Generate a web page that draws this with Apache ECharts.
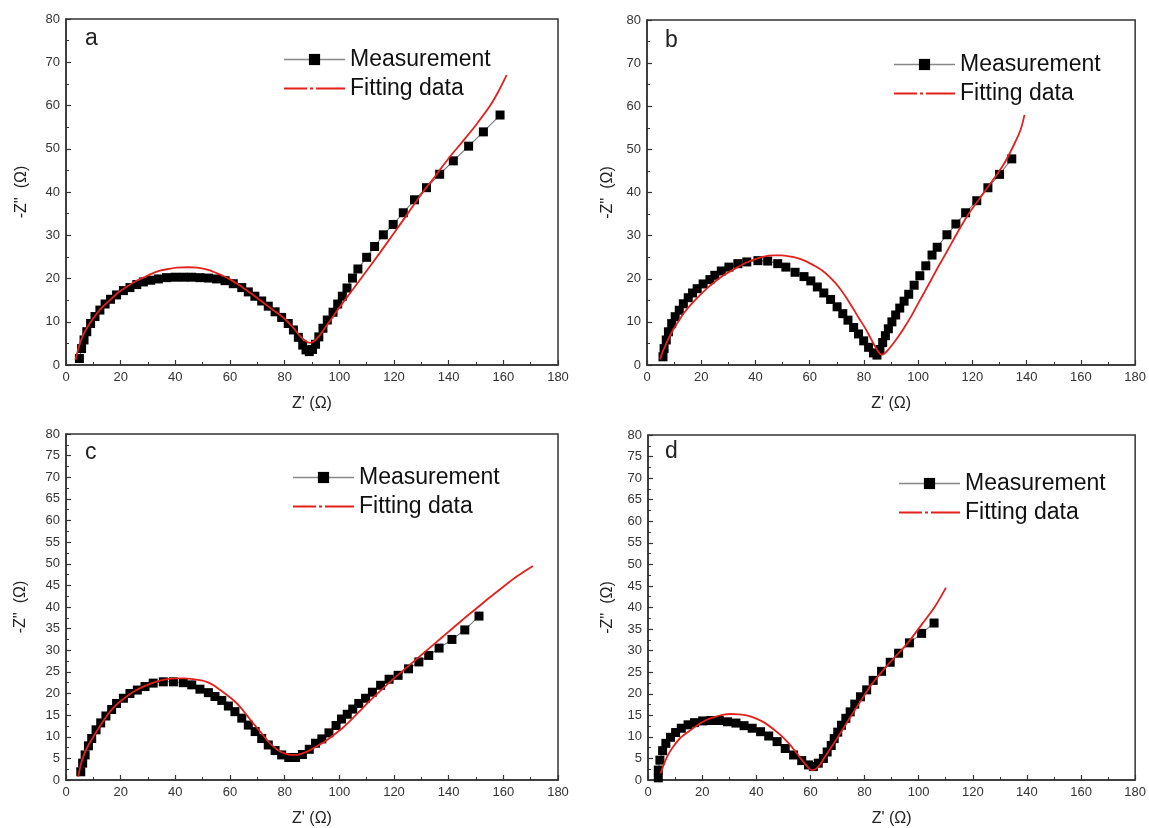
<!DOCTYPE html>
<html><head><meta charset="utf-8">
<script src="https://cdn.jsdelivr.net/npm/echarts@6/dist/echarts.min.js"></script>
<style>html,body{margin:0;padding:0;background:#fff}#c{width:1149px;height:828px}</style>
</head><body><div id="c"></div>
<script>
// ---------------- data ----------------
const panelLabels = ['a', 'b', 'c', 'd'];
const seriesNames = ['Measurement', 'Fitting data'];
const xAxisName = "Z' (\u03A9)";
const yAxisName = "-Z''  (\u03A9)";
const xRange = [0, 180, 20];          // min, max, interval
const yRangeAB = [0, 80, 10];
const yRangeCD = [0, 80, 5];

const measA = [[4.9,1.5],[5.7,3.8],[6.6,5.8],[7.6,7.7],[9.0,9.6],[10.6,11.2],[12.4,12.7],[14.3,14.1],[16.3,15.2],[18.5,16.2],[21,17.2],[23.4,17.9],[25.9,18.6],[28.3,19.2],[31,19.6],[33.8,19.9],[36.8,20.2],[39.9,20.3],[43,20.3],[46,20.3],[49,20.2],[52.1,20.1],[55.1,19.9],[58.2,19.5],[61.2,18.8],[64.3,17.9],[66.7,16.9],[69.1,15.9],[71.6,14.8],[74,13.6],[76.5,12.3],[78.9,11],[81.3,9.6],[83.2,8.1],[85,6.4],[86.6,4.6],[87.8,3.5],[89,3.1],[90.2,3.6],[91.3,4.8],[92.5,6.5],[94,8.5],[95.6,10.4],[97.7,12.2],[99.4,14.1],[101.1,15.9],[102.8,17.8],[104.8,20.1],[106.8,22.2],[110,24.9],[112.9,27.4],[116.1,30.1],[119.7,32.5],[123.4,35.2],[127.5,38.2],[131.9,41.0],[136.7,44.1],[141.7,47.2],[147.3,50.6],[152.7,53.9],[158.8,57.8]];
const fitA = [[3.5,1.2],[4.2,3],[5.2,5.2],[6.5,7.2],[8,8.9],[10,10.8],[13,13.2],[16.1,15],[19,16.7],[22.2,18.1],[25,19.2],[28.3,20.2],[31,21],[34.4,21.8],[37.5,22.2],[40.5,22.5],[44.8,22.6],[48,22.5],[52,22],[56,21],[60,19.8],[64,18.2],[68,16.4],[72,14.5],[76,12.6],[80,10.7],[83,8.7],[85.5,6.8],[87.5,5.6],[89.2,5.1],[91,5.6],[93,7],[95,8.8],[97.5,11],[100,13.3],[105,17.5],[110,21.8],[115,26.1],[120,30.5],[125,35],[130,39.5],[135,43.6],[140,47.8],[145,51.6],[150,55.5],[155,59.8],[158,63],[161.2,67]];

const measB = [[5.9,1.9],[6.3,3.8],[7.1,5.8],[7.9,7.7],[9.1,9.6],[10.4,11.2],[11.9,12.7],[13.4,14.2],[15.2,15.6],[16.8,16.7],[18.5,17.7],[20.7,18.8],[23.2,19.8],[25,20.8],[27.4,21.8],[30.2,22.7],[33.5,23.5],[36.8,23.9],[40.9,24.2],[44.5,24.1],[48.2,23.5],[51.2,22.7],[54.6,21.5],[57.9,20.5],[60.4,19.5],[62.8,18.1],[65.2,16.7],[67.7,15.2],[70.1,13.5],[72.2,11.9],[74.1,10.4],[76.2,8.7],[78,7.2],[79.9,5.6],[81.7,4.1],[83.5,2.8],[84.8,2.3],[85.9,3.6],[86.9,5.2],[87.9,6.8],[89,8.4],[90.3,10],[91.7,11.6],[93.2,13.2],[94.8,14.8],[96.5,16.4],[98.5,18.5],[100.6,20.7],[102.8,23],[105.1,25.5],[107,27.3],[110.6,30.2],[113.9,32.7],[117.5,35.3],[121.6,38.1],[125.7,41.1],[130,44.2],[134.5,47.8]];
const fitB = [[4.9,1.3],[5.6,2.8],[6.7,4.4],[8,6.2],[9.5,8],[11.5,10],[13.4,11.9],[16,13.9],[18.9,15.8],[22,17.7],[25.6,19.6],[29,21.1],[32.9,22.5],[36.5,23.7],[40.2,24.6],[43.5,25.2],[46.3,25.4],[49.5,25.4],[52.4,25.2],[55.5,24.8],[58.5,24.1],[61.5,23.1],[64.6,21.9],[67.5,20.3],[70.7,18.1],[73.2,15.9],[75.6,13.5],[78,11],[80.5,8.5],[82.3,6.4],[84.1,4.3],[85.4,3],[86.6,2.4],[87.8,2.8],[89,3.6],[90.8,5],[92.7,6.6],[95,8.8],[97.6,11.5],[100,14.3],[102.4,17],[105,20],[107.6,23],[110.5,26.2],[113.3,29.4],[116.3,32.7],[119.4,35.8],[122.5,38.5],[125.5,41.1],[128.5,43.7],[131.6,46.6],[134,49.4],[136,52],[137.8,54.6],[139.2,58]];

const measC = [[5.4,1.9],[6.1,3.9],[7,5.8],[8.2,7.9],[9.4,9.6],[11,11.6],[12.7,13.2],[14.6,14.8],[16.7,16.3],[18.5,17.7],[21,18.9],[23.4,20],[26.1,20.8],[28.9,21.6],[31.9,22.4],[35.6,22.7],[39.3,22.7],[42.9,22.5],[46,22],[49,21],[52.1,20.2],[54.5,19.3],[57,18.4],[59.4,17.1],[61.8,15.8],[64.3,14.3],[66.7,12.7],[69.2,11.2],[71.6,9.6],[74,8.1],[76.5,6.8],[78.9,5.8],[81.5,5.2],[84,5.2],[86.5,5.9],[89,7.1],[91.3,8.5],[93.6,9.5],[96.2,10.9],[98.8,12.6],[100.8,14.1],[102.9,15.2],[104.9,16.4],[107.1,17.7],[109.6,18.9],[112.1,20.3],[115.1,21.9],[118.2,23.3],[121.5,24.2],[125.3,25.7],[129.1,27.3],[132.7,28.8],[136.5,30.5],[141.2,32.5],[145.9,34.7],[151.1,37.9]];
const fitC = [[4.5,0.8],[5.2,3],[6.3,5.4],[8,7.8],[10,10],[13,13],[16.1,15.8],[19,17.7],[22.2,19.3],[25,20.5],[28.3,21.6],[31.5,22.4],[34.4,23],[37.5,23.4],[40.5,23.5],[43.5,23.5],[46.6,23.3],[49,23.1],[51.5,22.7],[54,21.9],[56.4,20.8],[58.8,19.7],[61.2,18.5],[63.7,16.9],[66.1,15],[68.5,13.1],[71,11.2],[73.5,9.3],[75.9,7.7],[78.3,6.6],[80.8,6],[82.6,5.8],[84.4,5.8],[86.8,6.2],[89.3,6.9],[92.3,8],[95.4,9.2],[98.5,10.7],[101.5,12.2],[104.5,14],[107.6,16],[110,17.6],[115,20.6],[120,23.5],[125,26.2],[130,28.9],[135,31.6],[140,34.3],[145,37],[150,39.6],[155,42.2],[160,44.7],[165,47.1],[170.8,49.5]];

const measD = [[3.8,0.5],[3.8,2.3],[4.4,4.6],[5.4,6.8],[6.6,8.5],[8.3,9.9],[10.2,11],[12.3,12],[14.8,12.8],[17.2,13.3],[20.2,13.7],[23.3,13.8],[26.3,13.8],[29.4,13.5],[32.5,13.2],[35.5,12.6],[38.5,12],[41.6,11.2],[44.6,10.2],[47.7,8.9],[50.7,7.3],[53.8,5.8],[56.8,4.5],[59.3,3.5],[61.1,3.1],[62.9,3.9],[64.8,5],[66.2,6.5],[67.7,8],[68.8,9.6],[70.1,11.1],[71.5,12.7],[73.1,14.3],[74.7,15.8],[76.4,17.6],[78.5,19.3],[80.8,20.9],[83.2,23.1],[86.3,25.2],[89.5,27.3],[92.6,29.4],[96.6,31.8],[101.1,34],[105.7,36.4]];
const fitD = [[4.6,1.5],[5.8,3.5],[7.3,5.7],[9.3,7.7],[12,9.8],[15.4,11.4],[18.5,12.8],[21.5,13.9],[24.5,14.6],[27.6,15.1],[30.5,15.3],[33.7,15.2],[36.8,14.9],[39.8,14.3],[43,13.3],[45.9,12],[49,10.4],[52,8.5],[54.5,6.6],[56.9,4.6],[58.8,3.2],[60.5,2.3],[62.3,2.7],[63.8,3.8],[65.4,5.4],[67.8,7.7],[70.2,10],[73.3,13.1],[76.4,16.2],[79.4,19.1],[82.4,22],[86,24.8],[90.2,27.8],[96,31.8],[101.3,36.2],[106.1,40.3],[110.1,44.6]];

const measData = [measA, measB, measC, measD];
const fitData = [fitA, fitB, fitC, fitD];

// ---------------- layout / style ----------------
const FONT = 'Arial, "Liberation Sans", sans-serif';
const RED = '#e3211c';
const AX = '#333';
const layouts = [
  {grid:{left:66, top:19, width:492, height:346}, yr:yRangeAB, legend:{left:283, top:48}, label:{left:85, top:27}, yGap:36},
  {grid:{left:647, top:20, width:492, height:345}, yr:yRangeAB, legend:{left:893, top:53}, label:{left:665, top:29}, yGap:31},
  {grid:{left:66, top:434, width:492, height:346}, yr:yRangeCD, legend:{left:292, top:466}, label:{left:85, top:441}, yGap:37},
  {grid:{left:648, top:435, width:492, height:345}, yr:yRangeCD, legend:{left:898, top:472}, label:{left:665, top:440}, yGap:32}
];

const option = {animation:false, backgroundColor:'#fff', grid:[], xAxis:[], yAxis:[], series:[], legend:[], title:[]};

layouts.forEach((L, i) => {
  option.grid.push(Object.assign({show:true, borderColor:AX, borderWidth:1.5, backgroundColor:'transparent'}, L.grid));
  option.xAxis.push({
    type:'value', gridIndex:i, min:xRange[0], max:xRange[1], interval:xRange[2],
    name:xAxisName, nameLocation:'middle', nameGap:31,
    nameTextStyle:{fontFamily:FONT, fontSize:16, color:'#222'},
    axisLine:{show:true, onZero:false, lineStyle:{color:AX, width:1.5}},
    axisTick:{show:true, inside:true, length:5, lineStyle:{color:AX, width:1.2}},
    minorTick:{show:true, splitNumber:2, length:3, lineStyle:{color:AX, width:1}},
    splitLine:{show:false},
    axisLabel:{fontFamily:FONT, fontSize:13, color:'#333', margin:6}
  });
  option.yAxis.push({
    type:'value', gridIndex:i, min:L.yr[0], max:L.yr[1], interval:L.yr[2],
    name:yAxisName, nameLocation:'middle', nameGap:L.yGap, nameRotate:90,
    nameTextStyle:{fontFamily:FONT, fontSize:16, color:'#222'},
    axisLine:{show:true, onZero:false, lineStyle:{color:AX, width:1.5}},
    axisTick:{show:true, inside:true, length:5, lineStyle:{color:AX, width:1.2}},
    minorTick:{show:true, splitNumber:2, length:3, lineStyle:{color:AX, width:1}},
    splitLine:{show:false},
    axisLabel:{fontFamily:FONT, fontSize:13, color:'#333', margin:6}
  });
  option.series.push({
    name:seriesNames[0], type:'line', xAxisIndex:i, yAxisIndex:i, data:measData[i],
    symbol:'rect', symbolSize:9, showSymbol:true,
    itemStyle:{color:'#000'}, lineStyle:{color:'#777', width:1.1}, z:2
  });
  option.series.push({
    name:seriesNames[1], type:'line', xAxisIndex:i, yAxisIndex:i, data:fitData[i],
    symbol:'none', smooth:0.3,
    itemStyle:{color:RED}, lineStyle:{color:RED, width:1.8}, z:3
  });
  option.legend.push({
    orient:'vertical', left:L.legend.left, top:L.legend.top, padding:0,
    itemWidth:61, itemHeight:14, itemGap:6,
    textStyle:{fontFamily:FONT, fontSize:23, color:'#111', lineHeight:23},
    selectedMode:false,
    data:[
      {name:seriesNames[0], itemStyle:{color:'#000'}, lineStyle:{color:'#888', width:1.6}},
      {name:seriesNames[1], itemStyle:{opacity:0}, lineStyle:{color:RED, width:2, type:[23,3,3,3,40]}}
    ]
  });
  option.title.push({
    text:panelLabels[i], left:L.label.left, top:L.label.top, padding:0,
    textStyle:{fontFamily:FONT, fontSize:23, fontWeight:'normal', color:'#222'}
  });
});

const chart = echarts.init(document.getElementById('c'), null, {renderer:'canvas'});
chart.setOption(option);
</script>
</body></html>
